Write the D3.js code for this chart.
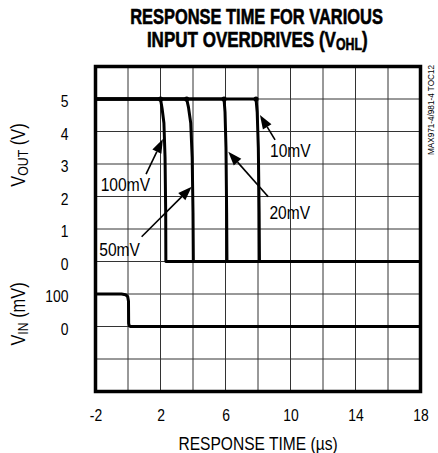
<!DOCTYPE html>
<html>
<head>
<meta charset="utf-8">
<script src="https://cdn.jsdelivr.net/npm/d3@7/dist/d3.min.js"></script>
<style>
  body { margin: 0; background: #fff; }
  text { font-family: "Liberation Sans", Arial, sans-serif; fill: #000; }
</style>
</head>
<body>
<svg id="chart" width="438" height="453"></svg>
<script>
// data (time in us, Vout in V, Vin in mV)
const timeTicks = [-2, 2, 6, 10, 14, 18];
const voutTicks = [0, 1, 2, 3, 4, 5];
const vinTicks = [0, 100];
const overdrives = ["100mV", "50mV", "20mV", "10mV"];

const vout100mV = [[-2, 5], [2.0, 5], [2.1, 4.7], [2.21, 4.26], [2.28, 3.2], [2.32, 1.5], [2.33, 0], [18, 0]];
const vout50mV  = [[-2, 5], [3.61, 5], [3.72, 4.75], [3.86, 4.26], [3.95, 3.2], [4.0, 1.5], [4.02, 0], [18, 0]];
const vout20mV  = [[-2, 5], [5.91, 5], [5.97, 4.6], [6.03, 3.5], [6.07, 1.5], [6.09, 0], [18, 0]];
const vout10mV  = [[-2, 5], [7.88, 5], [7.95, 4.6], [8.02, 3.5], [8.07, 1.5], [8.09, 0], [18, 0]];
const vinStep   = [[-2, 100], [-0.4, 100], [-0.15, 98], [-0.02, 92], [0.03, 78], [0.04, 10], [0.08, 2], [0.15, 0], [18, 0]];

// callouts: label anchor, arrow tail, arrow tip (time, Vout)
const labelAt = [[-1.68, 2.17], [-1.77, 0.18], [8.70, 1.30], [8.74, 3.22]];
const arrowFrom = [[1.11, 2.69], [0.84, 0.76], [8.63, 1.99], [9.05, 3.74]];
const arrowTo = [[2.15, 3.77], [3.92, 2.30], [6.17, 3.38], [8.12, 4.51]];

const svg = d3.select("#chart");
const pLeft = 95.5, pRight = 420.5, pTop = 66.5, pBottom = 391.5;
const narrow = 0.82; // squeeze Liberation Sans to look like Helvetica Narrow

const x = d3.scaleLinear().domain([-2, 18]).range([pLeft, pRight]);
const row = d3.scaleLinear().domain([0, 10]).range([pTop, pBottom]);
const yOut = d3.scaleLinear().domain([0, 5]).range([row(6), row(1)]);
const yIn = d3.scaleLinear().domain([0, 100]).range([row(8), row(7)]);

// text inside a squeezed group
function narrowText(parent, px, py, size, anchor, rot, k = narrow) {
  const g = parent.append("g")
    .attr("transform", `translate(${px},${py})${rot ? ` rotate(${rot})` : ""} scale(${k},1)`);
  return g.append("text").attr("font-size", size).attr("text-anchor", anchor || "start");
}

// title, squeezed to the measured widths
function titleLine(py, cx, width, build) {
  const t = narrowText(svg, cx, py, 22, "middle", 0, 1).attr("font-weight", "bold")
    .attr("stroke", "#000").attr("stroke-width", 0.6);
  build(t);
  const w = t.node().getBBox().width;
  d3.select(t.node().parentNode).attr("transform", `translate(${cx},${py}) scale(${width / w},1)`);
}
titleLine(23.5, 256.5, 253, t => t.text("RESPONSE TIME FOR VARIOUS"));
titleLine(46.5, 257.3, 221, t => {
  t.append("tspan").text("INPUT OVERDRIVES (V");
  t.append("tspan").attr("font-size", 16).attr("dy", 3).text("OHL");
  t.append("tspan").attr("dy", -3).text(")");
});

// grid
const grid = svg.append("g").attr("stroke", "#333").attr("stroke-width", 1);
grid.selectAll("line.v").data(d3.range(0, 17, 2)).join("line").attr("class", "v")
  .attr("x1", d => x(d)).attr("x2", d => x(d)).attr("y1", pTop).attr("y2", pBottom);
grid.selectAll("line.h").data(d3.range(1, 10)).join("line").attr("class", "h")
  .attr("x1", pLeft).attr("x2", pRight).attr("y1", d => row(d)).attr("y2", d => row(d));

// traces
const outLine = d3.line().x(d => x(d[0])).y(d => yOut(d[1]));
const traces = [vout100mV, vout50mV, vout20mV, vout10mV];
svg.append("g").selectAll("path").data(traces).join("path")
  .attr("d", d => outLine(d))
  .attr("fill", "none").attr("stroke", "#000").attr("stroke-width", 3).attr("stroke-linejoin", "round");
svg.append("g").selectAll("circle").data(traces).join("circle")
  .attr("cx", d => x(d[1][0])).attr("cy", d => yOut(d[1][1])).attr("r", 2.6);

const inLine = d3.line().x(d => x(d[0])).y(d => yIn(d[1]));
svg.append("path").attr("d", inLine(vinStep))
  .attr("fill", "none").attr("stroke", "#000").attr("stroke-width", 3).attr("stroke-linejoin", "round");

// frame
svg.append("rect").attr("x", pLeft).attr("y", pTop).attr("width", pRight - pLeft).attr("height", pBottom - pTop)
  .attr("fill", "none").attr("stroke", "#000").attr("stroke-width", 3.5);

// callout arrows
const ann = svg.append("g");
overdrives.forEach((name, i) => {
  const x0 = x(arrowFrom[i][0]), y0 = yOut(arrowFrom[i][1]);
  const x1 = x(arrowTo[i][0]), y1 = yOut(arrowTo[i][1]);
  const a = Math.atan2(y1 - y0, x1 - x0), len = 14, hw = 5;
  const bx = x1 - len * Math.cos(a), by = y1 - len * Math.sin(a);
  ann.append("line").attr("x1", x0).attr("y1", y0).attr("x2", bx).attr("y2", by)
    .attr("stroke", "#000").attr("stroke-width", 1.6);
  ann.append("path")
    .attr("d", `M${x1},${y1}L${bx + hw * Math.sin(a)},${by - hw * Math.cos(a)}L${bx - hw * Math.sin(a)},${by + hw * Math.cos(a)}Z`)
    .attr("fill", "#000");
  narrowText(ann, x(labelAt[i][0]), yOut(labelAt[i][1]), 19).text(name);
});

// axes
const fmt = d => String(d);
const xAxis = svg.append("g").attr("transform", `translate(0,${pBottom})`)
  .call(d3.axisBottom(x).tickValues(timeTicks).tickFormat(fmt).tickSize(0).tickPadding(17));
const yAxisOut = svg.append("g").attr("transform", `translate(${pLeft},0)`)
  .call(d3.axisLeft(yOut).tickValues(voutTicks).tickFormat(fmt).tickSize(0));
const yAxisIn = svg.append("g").attr("transform", `translate(${pLeft},0)`)
  .call(d3.axisLeft(yIn).tickValues(vinTicks).tickFormat(fmt).tickSize(0));
[xAxis, yAxisOut, yAxisIn].forEach(g => {
  g.attr("font-family", null).attr("font-size", 17);
  g.select(".domain").remove();
  g.selectAll("text").attr("transform", `scale(${narrow},1)`);
});
[yAxisOut, yAxisIn].forEach(g => g.selectAll("text").attr("x", -27 / narrow).attr("dy", "0.45em"));

// axis titles
narrowText(svg, 258, 449.5, 19, "middle").text("RESPONSE TIME (\u00b5s)");

const yt1 = narrowText(svg, 25, 155, 20, "middle", -90);
yt1.append("tspan").text("V");
yt1.append("tspan").attr("font-size", 15).attr("dy", 3).text("OUT");
yt1.append("tspan").attr("dy", -3).text(" (V)");

const yt2 = narrowText(svg, 25, 314, 20, "middle", -90);
yt2.append("tspan").text("V");
yt2.append("tspan").attr("font-size", 15).attr("dy", 3).text("IN");
yt2.append("tspan").attr("dy", -3).text(" (mV)");

// part code
svg.append("text").attr("transform", "translate(433.5,65) rotate(-90)")
  .attr("text-anchor", "end").attr("font-size", 9.5)
  .attr("textLength", 90).attr("lengthAdjust", "spacingAndGlyphs")
  .text("MAX971-4/981-4 TOC12");
</script>
</body>
</html>
